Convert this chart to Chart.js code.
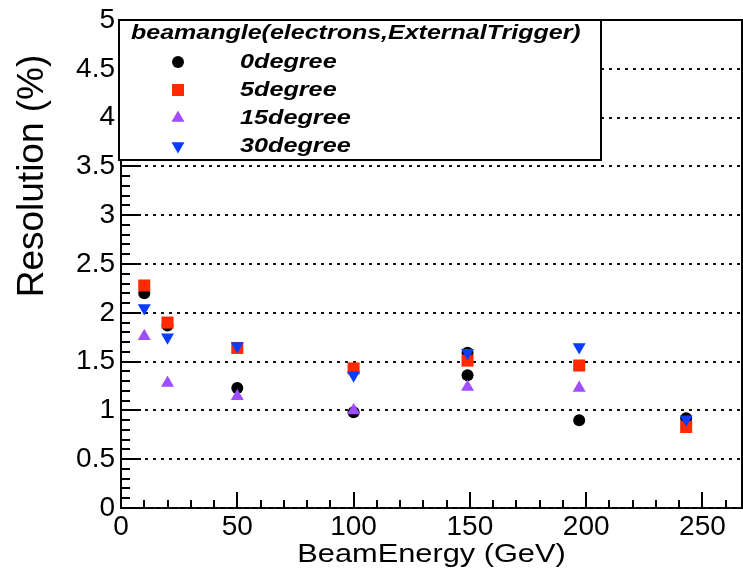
<!DOCTYPE html>
<html>
<head>
<meta charset="utf-8">
<script src="https://cdn.jsdelivr.net/npm/chart.js@4/dist/chart.umd.min.js"></script>
<style>
  html, body { margin: 0; padding: 0; background: #ffffff; }
  canvas { display: block; }
</style>
</head>
<body>
<canvas id="resChart" width="743" height="568"></canvas>
<script>
// Beam energies (GeV) per angle and measured resolution (%)
const energies0 = [10, 20, 50, 100, 149, 149, 197, 243];
const res0 = [2.20, 1.87, 1.23, 0.98, 1.59, 1.36, 0.90, 0.92];
const energies5 = [10, 20, 50, 100, 149, 197, 243];
const res5 = [2.28, 1.90, 1.64, 1.43, 1.51, 1.46, 0.83];
const energies15 = [10, 20, 50, 100, 149, 197];
const res15 = [1.76, 1.28, 1.145, 1.00, 1.24, 1.23];
const energies30 = [10, 20, 50, 100, 149, 197, 243];
const res30 = [2.05, 1.75, 1.66, 1.36, 1.59, 1.65, 0.91];

const seriesLabels = ['0degree', '5degree', '15degree', '30degree'];
const legendTitle = 'beamangle(electrons,ExternalTrigger)';
const xTitle = 'BeamEnergy (GeV)';
const yTitle = 'Resolution (%)';

const toPoints = (xs, ys) => xs.map((x, i) => ({ x: x, y: ys[i] }));

// stretched text, the ROOT labels are wider than plain Helvetica
const wideText = (ctx, text, x, y, sx) => {
    ctx.save();
    ctx.translate(x, y);
    ctx.scale(sx, 1);
    ctx.fillText(text, 0, 0);
    ctx.restore();
};

const drawMarker = (ctx, ds, x, y) => {
    const opts = { pointStyle: ds.pointStyle, rotation: ds.pointRotation || 0, radius: ds.pointRadius, borderWidth: 0 };
    ctx.fillStyle = ds.pointBackgroundColor;
    if (Chart.helpers && Chart.helpers.drawPoint) {
        Chart.helpers.drawPoint(ctx, opts, x, y);
    } else {
        ctx.beginPath();
        ctx.arc(x, y, ds.pointRadius, 0, Math.PI * 2);
        ctx.fill();
    }
};

const rootFrame = {
    id: 'rootFrame',
    beforeDatasetsDraw(chart) {
        const { ctx, chartArea: a, scales: { x, y } } = chart;
        ctx.save();
        // dotted horizontal grid
        ctx.strokeStyle = '#111';
        ctx.lineWidth = 1.8;
        ctx.setLineDash([3, 5]);
        y.ticks.forEach(t => {
            const py = Math.round(y.getPixelForValue(t.value));
            ctx.beginPath();
            ctx.moveTo(a.left, py);
            ctx.lineTo(a.right, py);
            ctx.stroke();
        });
        ctx.setLineDash([]);
        // inward ticks
        ctx.strokeStyle = '#000';
        ctx.lineWidth = 2;
        ctx.beginPath();
        for (let i = 0; i <= 50; i++) {
            const py = Math.round(y.getPixelForValue(i / 10));
            ctx.moveTo(a.left, py);
            ctx.lineTo(a.left + (i % 5 === 0 ? 20 : 9), py);
        }
        for (let i = 0; i * 10 <= x.max; i++) {
            const px = Math.round(x.getPixelForValue(i * 10));
            ctx.moveTo(px, a.bottom);
            ctx.lineTo(px, a.bottom - (i % 5 === 0 ? 16 : 8));
        }
        // top and right frame
        ctx.moveTo(a.left, a.top);
        ctx.lineTo(a.right, a.top);
        ctx.lineTo(a.right, a.bottom);
        ctx.stroke();
        ctx.restore();
    },
    afterDatasetsDraw(chart) {
        const { ctx, chartArea: a } = chart;
        ctx.save();
        // legend box
        ctx.fillStyle = '#ffffff';
        ctx.fillRect(a.left - 2, a.top, 482, 140);
        ctx.strokeStyle = '#000';
        ctx.lineWidth = 2;
        ctx.strokeRect(a.left - 2, a.top, 482, 140);
        ctx.fillStyle = '#000';
        ctx.textBaseline = 'middle';
        ctx.font = 'italic bold 20px "Liberation Sans", Arial, sans-serif';
        wideText(ctx, legendTitle, a.left + 10, a.top + 13, 1.25);
        ctx.font = 'italic bold 21px "Liberation Sans", Arial, sans-serif';
        chart.data.datasets.forEach((ds, i) => {
            const ly = a.top + 42 + i * 28;
            drawMarker(ctx, ds, a.left + 57, ly);
            ctx.fillStyle = '#000';
            wideText(ctx, ds.label, a.left + 119, ly, 1.2);
        });
        ctx.restore();
    },
    afterDraw(chart) {
        const { ctx, chartArea: a } = chart;
        ctx.save();
        ctx.fillStyle = '#000';
        ctx.textAlign = 'center';
        ctx.textBaseline = 'alphabetic';
        ctx.font = '25px "Liberation Sans", Arial, sans-serif';
        wideText(ctx, xTitle, (a.left + a.right) / 2, 562, 1.23);
        ctx.save();
        ctx.translate(43, 176);
        ctx.rotate(-Math.PI / 2);
        ctx.font = '37px "Liberation Sans", Arial, sans-serif';
        ctx.fillText(yTitle, 0, 0);
        ctx.restore();
        ctx.restore();
    }
};

const ctx = document.getElementById('resChart').getContext('2d');

new Chart(ctx, {
    type: 'scatter',
    data: {
        datasets: [
            {
                label: seriesLabels[0],
                data: toPoints(energies0, res0),
                order: 3,
                pointStyle: 'circle',
                pointRadius: 6,
                pointBackgroundColor: '#000000',
                pointBorderWidth: 0
            },
            {
                label: seriesLabels[1],
                data: toPoints(energies5, res5),
                order: 2,
                pointStyle: 'rect',
                pointRadius: 8.5,
                pointBackgroundColor: '#ff2a00',
                pointBorderWidth: 0
            },
            {
                label: seriesLabels[2],
                data: toPoints(energies15, res15),
                order: 1,
                pointStyle: 'triangle',
                pointRadius: 7.5,
                pointBackgroundColor: '#9f4dff',
                pointBorderWidth: 0
            },
            {
                label: seriesLabels[3],
                data: toPoints(energies30, res30),
                order: 0,
                pointStyle: 'triangle',
                pointRotation: 180,
                pointRadius: 7.5,
                pointBackgroundColor: '#0a3cff',
                pointBorderWidth: 0
            }
        ]
    },
    options: {
        responsive: false,
        animation: false,
        layout: { autoPadding: false, padding: { left: 0, right: 1, top: 20, bottom: 0 } },
        plugins: {
            legend: { display: false },
            tooltip: { enabled: false }
        },
        scales: {
            x: {
                type: 'linear',
                min: 0,
                max: 267,
                grid: { display: false, drawTicks: false },
                border: { display: true, color: '#000', width: 2 },
                ticks: {
                    stepSize: 50,
                    includeBounds: false,
                    padding: 2,
                    color: '#000',
                    maxRotation: 0,
                    font: { family: '"Liberation Sans", Arial, sans-serif', size: 28 }
                },
                afterFit: (scale) => {
                    scale.height = 60;
                    scale.paddingLeft = 0;
                    scale.paddingRight = 0;
                }
            },
            y: {
                min: 0,
                max: 5,
                grid: { display: false, drawTicks: false },
                border: { display: true, color: '#000', width: 2 },
                ticks: {
                    stepSize: 0.5,
                    padding: 6,
                    color: '#000',
                    font: { family: '"Liberation Sans", Arial, sans-serif', size: 28 },
                    callback: (val) => String(Number(val))
                },
                afterFit: (scale) => {
                    scale.width = 121;
                    scale.paddingTop = 0;
                    scale.paddingBottom = 0;
                }
            }
        }
    },
    plugins: [rootFrame]
});
</script>
</body>
</html>
